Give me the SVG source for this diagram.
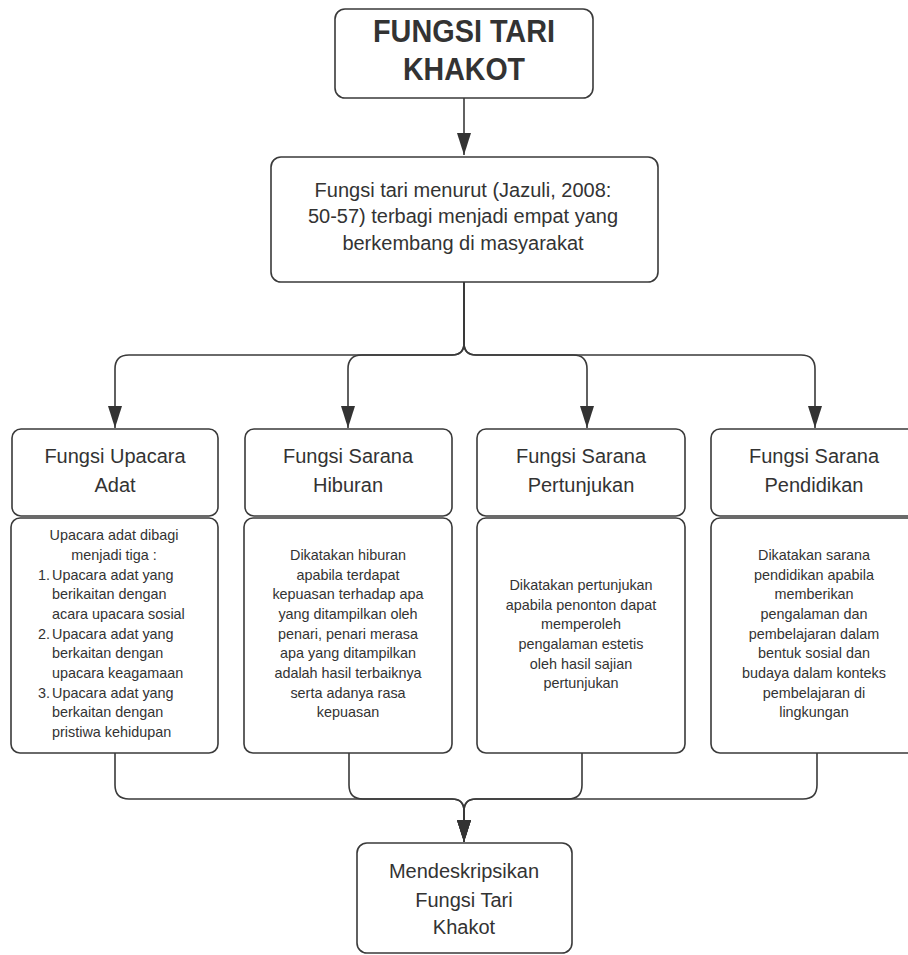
<svg xmlns="http://www.w3.org/2000/svg" width="908" height="955" viewBox="0 0 908 955">
<defs>
<style>
.box{fill:#fff;stroke:#3a3a3a;stroke-width:1.6}
.t{font-family:"Liberation Sans",Arial,sans-serif;fill:#333}
.h{font-size:20px;text-anchor:middle}
.d{font-size:14.4px;text-anchor:middle}
.l{font-size:14.4px}
.title{font-size:31px;font-weight:bold;text-anchor:middle}
.c{fill:none;stroke:#3a3a3a;stroke-width:1.6}
</style>
<marker id="arr" viewBox="0 0 22 14" refX="22" refY="7" markerWidth="22" markerHeight="14" markerUnits="userSpaceOnUse" orient="auto">
<path d="M0,0 L22,7 L0,14 z" fill="#333"/>
</marker>
</defs>
<rect width="908" height="955" fill="#fff"/>
<g id="connectors">
<path class="c" d="M464,98 V155" marker-end="url(#arr)"/>
<path class="c" d="M464,282 V343 Q464,355 452,355 H129 Q115,355 115,369 V428" marker-end="url(#arr)"/>
<path class="c" d="M464,282 V343 Q464,355 452,355 H362 Q348,355 348,369 V428" marker-end="url(#arr)"/>
<path class="c" d="M464,282 V343 Q464,355 476,355 H573 Q587,355 587,369 V428" marker-end="url(#arr)"/>
<path class="c" d="M464,282 V343 Q464,355 476,355 H801 Q815,355 815,369 V428" marker-end="url(#arr)"/>
<path class="c" d="M115,753 V785 Q115,799 129,799 H452 Q464,799 464,811 V842" marker-end="url(#arr)"/>
<path class="c" d="M349,753 V785 Q349,799 363,799 H452 Q464,799 464,811 V842" marker-end="url(#arr)"/>
<path class="c" d="M582,753 V785 Q582,799 568,799 H476 Q464,799 464,811 V842" marker-end="url(#arr)"/>
<path class="c" d="M817,753 V785 Q817,799 803,799 H476 Q464,799 464,811 V842" marker-end="url(#arr)"/>
</g>
<g id="title">
<rect class="box" x="335" y="9" width="258" height="89" rx="10"/>
<text class="t title" x="464" y="42" textLength="182" lengthAdjust="spacingAndGlyphs">FUNGSI TARI</text>
<text class="t title" x="464" y="80" textLength="122" lengthAdjust="spacingAndGlyphs">KHAKOT</text>
</g>
<g id="jazuli">
<rect class="box" x="271" y="157" width="387" height="125" rx="10"/>
<text class="t h" x="463" y="197">Fungsi tari menurut (Jazuli, 2008:</text>
<text class="t h" x="463" y="223">50-57) terbagi menjadi empat yang</text>
<text class="t h" x="463" y="250">berkembang di masyarakat</text>
</g>
<g id="upacara">
<rect class="box" x="12" y="429" width="206" height="87" rx="9"/>
<text class="t h" x="115" y="463">Fungsi Upacara</text>
<text class="t h" x="115" y="492">Adat</text>
</g>
<g id="upacara-desc">
<rect class="box" x="11" y="518" width="207" height="235" rx="9"/>
<text class="t d" x="114" y="540">Upacara adat dibagi</text>
<text class="t d" x="114" y="560">menjadi tiga :</text>
<text class="t l" x="38" y="580">1.</text>
<text class="t l" x="52" y="580">Upacara adat yang</text>
<text class="t l" x="52" y="599">berikaitan dengan</text>
<text class="t l" x="52" y="619">acara upacara sosial</text>
<text class="t l" x="38" y="639">2.</text>
<text class="t l" x="52" y="639">Upacara adat yang</text>
<text class="t l" x="52" y="658">berkaitan dengan</text>
<text class="t l" x="52" y="678">upacara keagamaan</text>
<text class="t l" x="38" y="698">3.</text>
<text class="t l" x="52" y="698">Upacara adat yang</text>
<text class="t l" x="52" y="717">berkaitan dengan</text>
<text class="t l" x="52" y="737">pristiwa kehidupan</text>
</g>
<g id="hiburan">
<rect class="box" x="245" y="429" width="207" height="87" rx="9"/>
<text class="t h" x="348" y="463">Fungsi Sarana</text>
<text class="t h" x="348" y="492">Hiburan</text>
</g>
<g id="hiburan-desc">
<rect class="box" x="244" y="518" width="208" height="235" rx="9"/>
<text class="t d" x="348" y="560">Dikatakan hiburan</text>
<text class="t d" x="348" y="580">apabila terdapat</text>
<text class="t d" x="348" y="599">kepuasan terhadap apa</text>
<text class="t d" x="348" y="619">yang ditampilkan oleh</text>
<text class="t d" x="348" y="639">penari, penari merasa</text>
<text class="t d" x="348" y="658">apa yang ditampilkan</text>
<text class="t d" x="348" y="678">adalah hasil terbaiknya</text>
<text class="t d" x="348" y="698">serta adanya rasa</text>
<text class="t d" x="348" y="717">kepuasan</text>
</g>
<g id="pertunjukan">
<rect class="box" x="477" y="429" width="208" height="87" rx="9"/>
<text class="t h" x="581" y="463">Fungsi Sarana</text>
<text class="t h" x="581" y="492">Pertunjukan</text>
</g>
<g id="pertunjukan-desc">
<rect class="box" x="477" y="518" width="208" height="235" rx="9"/>
<text class="t d" x="581" y="590">Dikatakan pertunjukan</text>
<text class="t d" x="581" y="610">apabila penonton dapat</text>
<text class="t d" x="581" y="629">memperoleh</text>
<text class="t d" x="581" y="649">pengalaman estetis</text>
<text class="t d" x="581" y="669">oleh hasil sajian</text>
<text class="t d" x="581" y="688">pertunjukan</text>
</g>
<g id="pendidikan">
<rect class="box" x="711" y="429" width="207" height="87" rx="9"/>
<text class="t h" x="814" y="463">Fungsi Sarana</text>
<text class="t h" x="814" y="492">Pendidikan</text>
</g>
<g id="pendidikan-desc">
<rect class="box" x="711" y="518" width="207" height="235" rx="9"/>
<text class="t d" x="814" y="560">Dikatakan sarana</text>
<text class="t d" x="814" y="580">pendidikan apabila</text>
<text class="t d" x="814" y="599">memberikan</text>
<text class="t d" x="814" y="619">pengalaman dan</text>
<text class="t d" x="814" y="639">pembelajaran dalam</text>
<text class="t d" x="814" y="658">bentuk sosial dan</text>
<text class="t d" x="814" y="678">budaya dalam konteks</text>
<text class="t d" x="814" y="698">pembelajaran di</text>
<text class="t d" x="814" y="717">lingkungan</text>
</g>
<g id="mendeskripsikan">
<rect class="box" x="357" y="843" width="215" height="110" rx="10"/>
<text class="t h" x="464" y="878">Mendeskripsikan</text>
<text class="t h" x="464" y="907">Fungsi Tari</text>
<text class="t h" x="464" y="934">Khakot</text>
</g>
</svg>
